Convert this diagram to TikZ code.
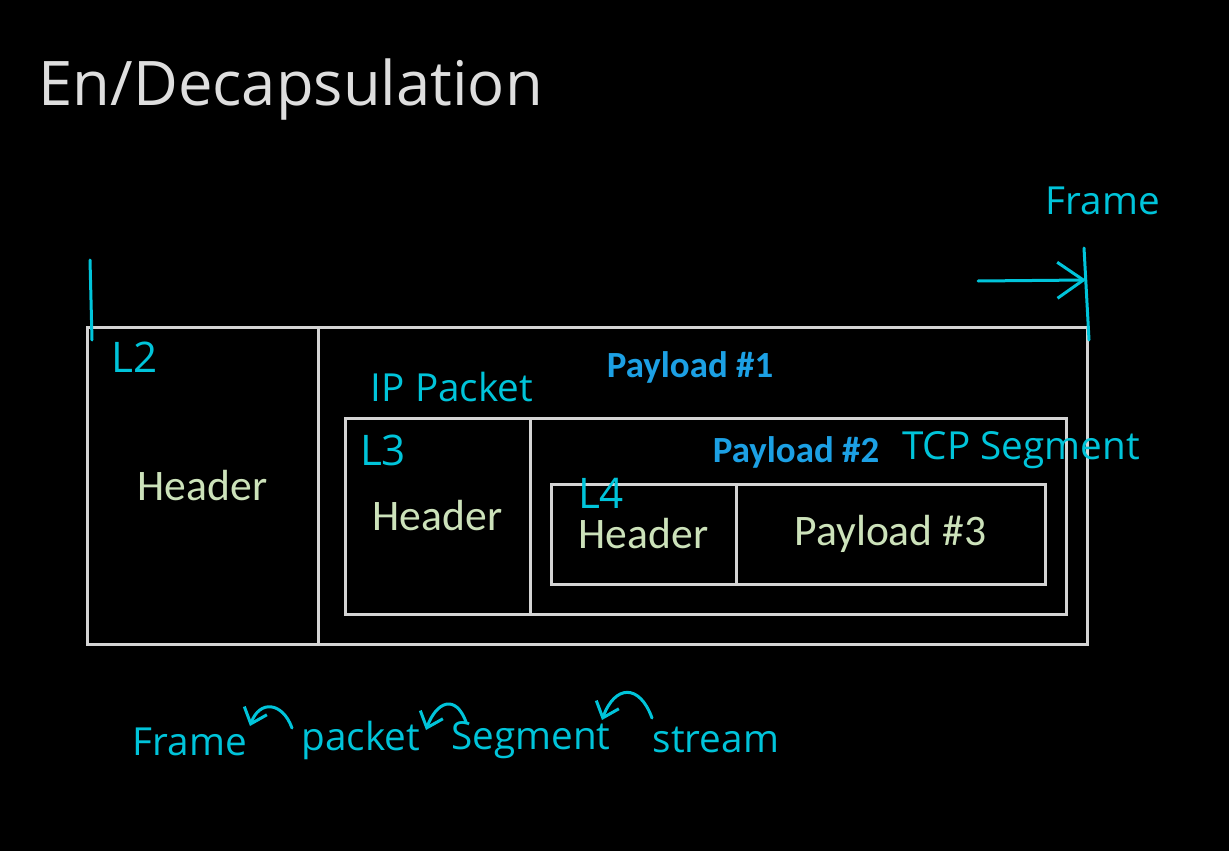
\documentclass[tikz,border=0pt]{standalone}
\usepackage{fontspec}
\setmainfont{Carlito}
\newfontfamily\titlefont{Open Sans}
\newfontfamily\handfont{Open Sans}
\usetikzlibrary{arrows.meta, positioning, calc}
\definecolor{boxline}{RGB}{212,212,212}
\definecolor{hdrgreen}{RGB}{204,226,186}
\definecolor{payblue}{RGB}{28,160,228}
\definecolor{inkcyan}{RGB}{0,196,218}
\definecolor{titlegray}{RGB}{222,222,222}
\tikzset{
  cell/.style={rectangle, draw=boxline, line width=0.3mm, inner sep=0pt, outer sep=0pt, anchor=north west, text=hdrgreen, font=\fontsize{12.4}{15}\selectfont},
  paylabel/.style={text=payblue, inner sep=0pt, font=\bfseries\fontsize{10.5}{13}\selectfont},
  ink/.style={text=inkcyan, inner sep=0pt, font=\handfont\fontsize{11}{13}\selectfont},
  inkL/.style={text=inkcyan, inner sep=0pt, font=\handfont\fontsize{12}{14}\selectfont},
  stroke/.style={draw=inkcyan, line width=0.3mm, line cap=round, line join=round},
  barb/.style={-{Straight Barb[length=2.6mm, width=3.6mm]}},
  hook/.style={-{Straight Barb[length=1.4mm, width=2.4mm]}},
  title/.style={text=titlegray, inner sep=0pt, anchor=west, font=\titlefont\fontsize{17.5}{20}\selectfont},
}
\begin{document}
\begin{tikzpicture}[x=0.1mm, y=-0.1mm]
\fill[black] (0,0) rectangle (1229,851);
\useasboundingbox (0,0) rectangle (1229,851);
\node[title] (ttl) at (38,90) {En/Decapsulation};
% nested boxes
\node[cell, minimum width=23.1mm, minimum height=31.7mm] (hdrA) at (87,327) {Header};
\node[cell, minimum width=76.9mm, minimum height=31.7mm] (payA) at (hdrA.north east) {};
\node[cell, minimum width=18.5mm, minimum height=19.6mm] (hdrB) at (345,418) {Header};
\node[cell, minimum width=53.6mm, minimum height=19.6mm] (payB) at (hdrB.north east) {};
\node[cell, minimum width=18.5mm, minimum height=10mm] (hdrC) at (551,484) {Header};
\node[cell, minimum width=30.9mm, minimum height=10mm] (payC) at (hdrC.north east) {Payload \#3};
\node[paylabel] (lblA) at (690,367) {Payload \#1};
\node[paylabel] (lblB) at (796,452) {Payload \#2};
% handwritten notes
\node[inkL] (tL2) at (135,357) {L2};
\node[inkL] (tL3) at (383,450) {L3};
\node[inkL] (tL4) at (601,493) {L4};
\node[ink] (tIP) at (452,387) {IP Packet};
\node[ink] (tTCP) at (1021,450) {TCP Segment};
\node[ink] (tFrame) at (1103,201) {Frame};
\coordinate (lbarT) at (90,260);
\coordinate (lbarB) at (92,340);
\coordinate (rbarT) at (1084,248);
\coordinate (rbarB) at (1089,340);
\coordinate (arrS) at (978,281);
\coordinate (arrE) at (1086,280);
\draw[stroke] (lbarT) -- (lbarB);
\draw[stroke] (rbarT) -- (rbarB);
\draw[stroke, barb] (arrS) -- (arrE);
% bottom chain
\node[ink] (wFrame) at (190,742) {Frame};
\node[ink] (wPacket) at (361,740) {packet};
\node[ink] (wSeg) at (531,740) {Segment};
\node[ink] (wStream) at (716,740) {stream};
\coordinate (arcAs) at (292,728);
\coordinate (arcAe) at (250,726);
\coordinate (arcBs) at (466,722);
\coordinate (arcBe) at (426,730);
\coordinate (arcCs) at (652,718);
\coordinate (arcCe) at (602,720);
\draw[stroke, hook] (arcAs) to[out=110, in=70, looseness=1.7] (arcAe);
\draw[stroke, hook] (arcBs) to[out=110, in=70, looseness=1.9] (arcBe);
\draw[stroke, hook] (arcCs) to[out=110, in=70, looseness=1.9] (arcCe);
\end{tikzpicture}
\end{document}
